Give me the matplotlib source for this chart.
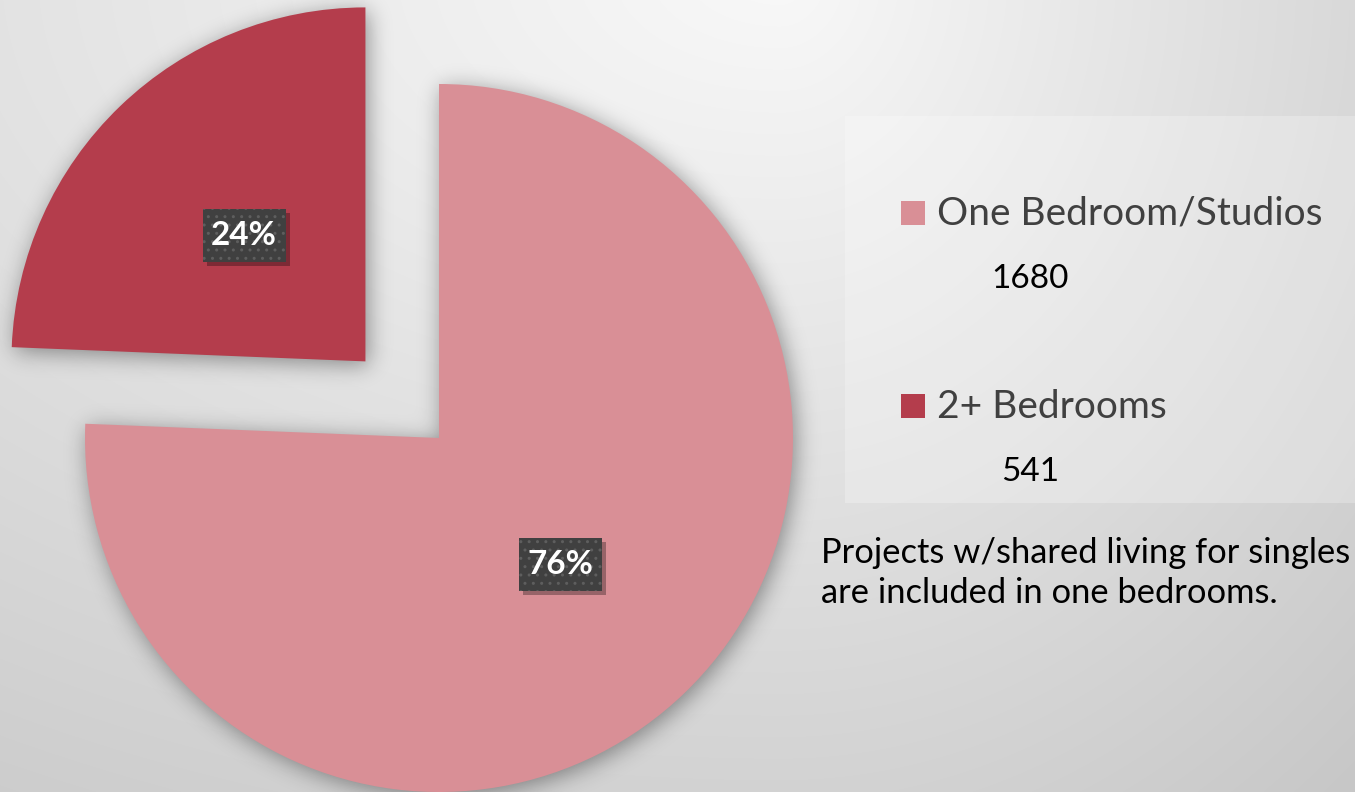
import numpy as np
import matplotlib.pyplot as plt
from matplotlib.patches import Rectangle

labels = ["One Bedroom/Studios", "2+ Bedrooms"]
counts = [1680, 541]
colors = ["#D98F96", "#B43D4C"]
explode = [0, 0.3]
note = ["Projects w/shared living for singles", "are included in one bedrooms."]

W, H = 1355, 792
R = 354
fig = plt.figure(figsize=(W / 100, H / 100), dpi=100)
ax = fig.add_axes([0, 0, 1, 1])

# fond en dégradé (clair en haut, plus sombre vers les coins)
gx, gy = np.meshgrid(np.arange(W) + 0.5, np.arange(H) + 0.5)
tx = np.where(gx > 780, (gx - 780) * 0.125 / 575, (780 - gx) * 0.085 / 780)
ty = (gy + 30) * 0.1497 / 822
g = np.clip(0.975 - np.hypot(tx, ty), 0, 1)
ax.imshow(np.dstack([g, g, g]), extent=(0, W, 0, H), origin="upper", zorder=0)

# explode est en unités de données -> multiplier par le rayon
wedges, texts, autotexts = ax.pie(
    counts, colors=colors, explode=[e * R for e in explode], startangle=90, counterclock=False,
    center=(439, H - 438), radius=R, autopct="%.0f%%", pctdistance=0.495,
    wedgeprops=dict(linewidth=0, zorder=2),
    textprops=dict(color="white", fontsize=24, fontweight="bold", family="Lato"))

# ombre douce sous les secteurs
pts = np.column_stack([gx.ravel(), H - gy.ravel()])
mask = np.zeros((H, W))
for w in wedges:
    mask = np.maximum(mask, w.get_path().contains_points(pts).reshape(H, W))
pad = 60
m = np.pad(mask, pad)
ky = np.fft.fftfreq(m.shape[0])[:, None]
kx = np.fft.fftfreq(m.shape[1])[None, :]
sig = 11
blur = np.real(np.fft.ifft2(np.fft.fft2(m) * np.exp(-2 * (np.pi * sig) ** 2 * (kx ** 2 + ky ** 2))))
blur = np.roll(blur, (4, 3), axis=(0, 1))[pad:-pad, pad:-pad]
shadow = np.zeros((H, W, 4))
shadow[..., 3] = np.clip(blur, 0, 1) * 0.4
ax.imshow(shadow, extent=(0, W, 0, H), origin="upper", zorder=1)

# étiquettes de pourcentage dans une boîte sombre pointillée
bw, bh = 83, 53
for t in autotexts:
    t.set_zorder(6)
    x, y = t.get_position()
    ax.add_patch(Rectangle((x - bw / 2 + 4, y - bh / 2 - 4), bw, bh, fc="black", alpha=0.3, lw=0, zorder=4))
    ax.add_patch(Rectangle((x - bw / 2, y - bh / 2), bw, bh, fc="#404040", ec="#5e5e5e", lw=0,
                           hatch="..", zorder=5))

# légende
ax.add_patch(Rectangle((845, H - 503), W - 845, 503 - 116, fc="white", alpha=0.25, ec="none", zorder=1))
for i, (lab, c, n) in enumerate(zip(labels, colors, counts)):
    top = 201 + i * 193
    ax.add_patch(Rectangle((901, H - top - 24), 24, 24, fc=c, ec="none", zorder=3))
    ax.text(937, H - top - 24, lab, fontsize=28, color="#404040", family="Lato", va="baseline", zorder=3)
    ax.text(1030, H - top - 24 - 63, str(n), fontsize=24, color="black", family="Lato",
            ha="center", va="baseline", zorder=3)

for i, line in enumerate(note):
    ax.text(821, H - 563 - i * 40, line, fontsize=24.8, color="black", family="Lato", va="baseline", zorder=3)

ax.set_xlim(0, W)
ax.set_ylim(0, H)
ax.axis("off")

fig.savefig("out.png", dpi=100)
